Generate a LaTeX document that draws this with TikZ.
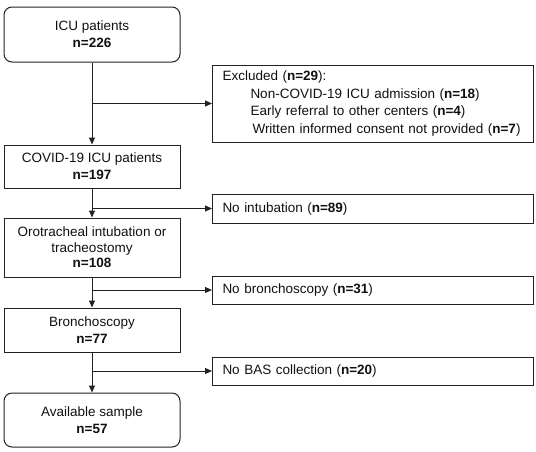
\documentclass[tikz,border=0pt]{standalone}
\usepackage{fontspec}
\setmainfont{Liberation Sans}
\usetikzlibrary{arrows.meta}
\definecolor{line}{HTML}{222222}
\definecolor{ink}{HTML}{111111}
\tikzset{
  box/.style={draw=line, line width=1pt, text=ink, minimum width=176pt, inner sep=0pt, align=center, font=\fontsize{13.5}{17}\selectfont},
  rbox/.style={box, rounded corners=8pt},
  side/.style={draw=line, line width=1pt, text=ink, anchor=west, minimum width=321pt, text width=301pt, inner xsep=10pt, inner ysep=0pt, align=left, font=\fontsize{13.5}{17.5}\selectfont},
  arr/.style={draw=line, line width=1pt, -{Triangle[length=7pt,width=6pt]}},
}

\begin{document}
\begin{tikzpicture}[x=1pt,y=-1pt]
  \useasboundingbox (0,0) rectangle (536,451);
  % main column
  \node[rbox, minimum height=55pt] (icu) at (92,34.5) {ICU patients\\\textbf{n=226}};
  \node[box, minimum height=43pt] (covid) at (92,166.5) {COVID-19 ICU patients\\\textbf{n=197}};
  \node[box, minimum height=59pt, font=\fontsize{13.5}{15.5}\selectfont] (oro) at (92,247.5) {Orotracheal intubation or\\tracheostomy\\\textbf{n=108}};
  \node[box, minimum height=44pt] (bron) at (92,330) {Bronchoscopy\\\textbf{n=77}};
  \node[rbox, minimum height=54pt] (avail) at (92,420) {Available sample\\\textbf{n=57}};
  % exclusions
  \node[side, minimum height=77pt] (excl) at (212,103.5) {Excluded (\textbf{n=29}):\\
    \hspace*{28pt}Non-COVID-19 ICU admission (\textbf{n=18})\\
    \hspace*{28pt}Early referral to other centers (\textbf{n=4})\\
    \hspace*{30pt}Written informed consent not provided (\textbf{n=7})};
  \node[side, minimum height=29pt] (noint) at (212,208.5) {No intubation (\textbf{n=89})};
  \node[side, minimum height=28pt] (nobr) at (212,290) {No bronchoscopy (\textbf{n=31})};
  \node[side, minimum height=28pt] (nobas) at (212,371) {No BAS collection (\textbf{n=20})};
  % connectors
  \draw[arr] (icu.south) -- (covid.north);
  \draw[arr] (icu.south |- excl.west) -- (excl.west);
  \draw[arr] (covid.south) -- (oro.north);
  \draw[arr] (covid.south |- noint.west) -- (noint.west);
  \draw[arr] (oro.south) -- (bron.north);
  \draw[arr] (oro.south |- nobr.west) -- (nobr.west);
  \draw[arr] (bron.south) -- (avail.north);
  \draw[arr] (bron.south |- nobas.west) -- (nobas.west);
\end{tikzpicture}
\end{document}
